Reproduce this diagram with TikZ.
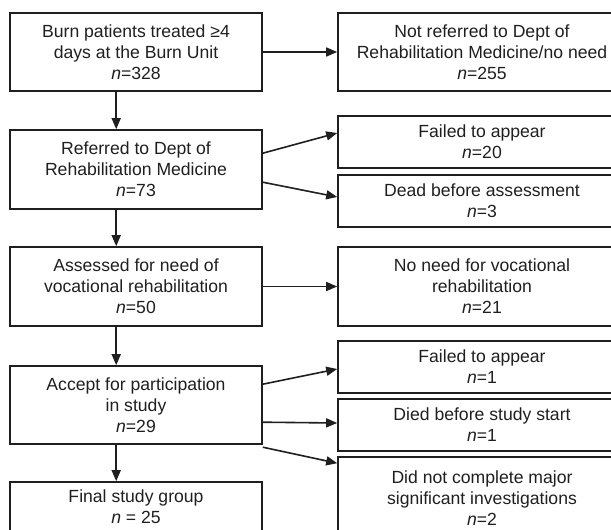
\documentclass[tikz,border=0pt]{standalone}
\usepackage{fontspec}
\setmainfont{Liberation Sans}
\usetikzlibrary{arrows.meta}
\definecolor{ink}{HTML}{1F1F1F}

\begin{document}
\begin{tikzpicture}[
  x=1pt, y=-1pt,
  every node/.style={font=\fontsize{17.6}{21}\selectfont, text=ink},
  box/.style={rectangle, draw=ink, line width=1.6pt, align=center, inner sep=0pt},
  mainbox/.style={box, minimum width=252pt},
  sidebox/.style={box, minimum width=288pt},
  >={Triangle[length=11pt,width=9pt]}, line width=1.6pt, color=ink
]
  \useasboundingbox (0,0) rectangle (611,530);
  \clip (0,0) rectangle (611,530);

  % main flow
  \node[mainbox, minimum height=78pt] (burn) at (136,52)
    {Burn patients treated \char"2265 4\\ days at the Burn Unit\\ \textit{n}=328};
  \node[mainbox, minimum height=79pt] (referred) at (136,169.5)
    {Referred to Dept of\\Rehabilitation Medicine\\ \textit{n}=73};
  \node[mainbox, minimum height=79pt] (assessed) at (136,286.5)
    {Assessed for need of\\vocational rehabilitation\\ \textit{n}=50};
  \node[mainbox, minimum height=78pt] (accept) at (136,405)
    {Accept for participation\\in study\\ \textit{n}=29};
  \node[mainbox, minimum height=50pt] (final) at (136,507)
    {Final study group\\ \textit{n} = 25};

  % exclusions
  \node[sidebox, minimum height=78pt] (notref) at (482,52)
    {Not referred to Dept of\\Rehabilitation Medicine/no need\\ \textit{n}=255};
  \node[sidebox, minimum height=52pt] (failA) at (482,142)
    {Failed to appear\\ \textit{n}=20};
  \node[sidebox, minimum height=52pt] (dead) at (482,201)
    {Dead before assessment\\ \textit{n}=3};
  \node[sidebox, minimum height=79pt] (noneed) at (482,286.5)
    {No need for vocational\\rehabilitation\\ \textit{n}=21};
  \node[sidebox, minimum height=52pt] (failB) at (482,367)
    {Failed to appear\\ \textit{n}=1};
  \node[sidebox, minimum height=52pt] (died) at (482,425)
    {Died before study start\\ \textit{n}=1};
  \node[sidebox, minimum height=82pt] (incomplete) at (482,498)
    {Did not complete major\\significant investigations\\ \textit{n}=2};

  % down arrows
  \draw[->] ([xshift=107pt]burn.south west) -- ([xshift=107pt]referred.north west);
  \draw[->] ([xshift=107pt]referred.south west) -- ([xshift=107pt]assessed.north west);
  \draw[->] ([xshift=107pt]assessed.south west) -- ([xshift=107pt]accept.north west);
  \draw[->] ([xshift=107pt]accept.south west) -- ([xshift=107pt]final.north west);

  % side arrows
  \draw[->] (burn.east) -- (notref.west);
  \draw[->] ([yshift=-24pt]referred.north east) -- ([yshift=9pt]failA.west);
  \draw[->] ([yshift=-53pt]referred.north east) -- ([yshift=4pt]dead.west);
  \draw[->] (assessed.east) -- (noneed.west);
  \draw[->] ([yshift=-19pt]accept.north east) -- ([yshift=-2pt]failB.west);
  \draw[->] ([yshift=-57pt]accept.north east) -- ([yshift=2pt]died.west);
  \draw[->] ([yshift=-82pt]accept.north east) -- ([yshift=-7pt]incomplete.north west);
\end{tikzpicture}
\end{document}
